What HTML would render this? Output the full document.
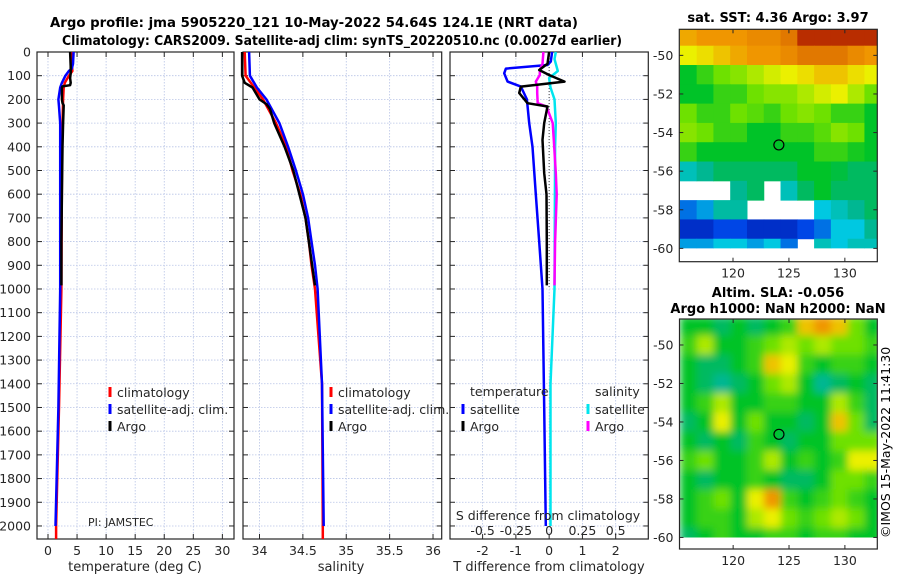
<!DOCTYPE html>
<html><head><meta charset="utf-8">
<style>
html,body{margin:0;padding:0;background:#fff;}
svg{display:block;font-family:"DejaVu Sans","Liberation Sans",sans-serif;}
</style></head>
<body>
<svg id="fig" width="900" height="580" viewBox="0 0 900 580" xmlns="http://www.w3.org/2000/svg">
<text x="314" y="27" font-size="13" font-weight="bold" text-anchor="middle" textLength="528" lengthAdjust="spacingAndGlyphs">Argo profile: jma 5905220_121 10-May-2022 54.64S 124.1E (NRT data)</text>
<text x="342" y="45" font-size="13" font-weight="bold" text-anchor="middle" textLength="560" lengthAdjust="spacingAndGlyphs">Climatology: CARS2009. Satellite-adj clim: synTS_20220510.nc (0.0027d earlier)</text>
<text x="778" y="22" font-size="13" font-weight="bold" text-anchor="middle">sat. SST: 4.36 Argo: 3.97</text>
<text x="778" y="297" font-size="13" font-weight="bold" text-anchor="middle">Altim. SLA: -0.056</text>
<text x="778" y="313" font-size="13" font-weight="bold" text-anchor="middle">Argo h1000: NaN h2000: NaN</text>
<text transform="translate(890,538) rotate(-90)" font-size="12.5">©IMOS 15-May-2022 11:41:30</text>
<g id="root"></g>
</svg>
<script>
// ---- profile data ----
const depthT_clim = [0,50,80,100,130,150,200,300,500,1000,1500,2000,2055];
const tClim       = [4.1,4.1,4.2,3.6,2.9,2.7,2.6,2.5,2.4,2.3,1.9,1.4,1.4];
const depthT_sat  = [0,50,70,80,100,130,150,200,230,300,500,1000,1500,2000];
const tSat        = [4.4,4.3,4.1,3.6,3.0,2.4,2.1,1.8,1.9,2.1,2.1,2.1,1.8,1.3];
const depthArgo   = [0,60,90,110,130,140,145,150,200,215,225,300,400,600,800,985];
const tArgo       = [3.8,3.9,3.9,3.8,3.9,3.8,2.5,2.4,2.4,2.5,2.7,2.6,2.5,2.4,2.3,2.3];
const depthS      = [0,100,150,200,300,400,500,600,700,800,900,1000,1400,2000,2055];
const sClim       = [33.83,33.84,33.94,34.04,34.19,34.31,34.38,34.47,34.53,34.57,34.60,34.64,34.72,34.73,34.73];
const sSat        = [33.88,33.89,33.97,34.08,34.23,34.33,34.42,34.50,34.56,34.60,34.64,34.67,34.72,34.74];
const depthSArgo  = [0,100,130,150,200,220,240,300,400,500,700,985];
const sArgo       = [33.80,33.80,33.83,33.92,34.00,34.08,34.12,34.17,34.29,34.39,34.53,34.64];
// differences
const depthDT_sat = [0,40,55,70,90,125,146,200,300,400,600,800,1000,1500,2000];
const dTSat       = [0.09,0.05,-0.05,-1.3,-1.35,-1.25,-0.85,-0.67,-0.6,-0.5,-0.4,-0.3,-0.2,-0.15,-0.1];
const depthDArgo  = [0,50,76,97,125,146,173,216,230,300,371,511,600,800,985];
const dTArgo      = [0.0,-0.05,-0.3,0.0,0.46,-0.85,-0.9,-0.65,-0.05,-0.15,-0.2,-0.15,-0.08,-0.07,-0.07];
const dSArgo      = [-0.043,-0.05,-0.07,-0.07,-0.1,-0.09,-0.09,-0.086,-0.02,0.027,0.035,0.05,0.057,0.045,0.04];
const depthDS_sat = [0,30,80,110,150,200,300,400,1000,1400,2000];
const dSSat       = [0.05,0.04,0.065,0.0,0.01,0.04,0.05,0.045,0.04,0.01,0.01];
// ticks
const depthTicks = [0,100,200,300,400,500,600,700,800,900,1000,1100,1200,1300,1400,1500,1600,1700,1800,1900,2000];
const tTicks = [0,5,10,15,20,25,30];
const sTicks = [34,34.5,35,35.5,36];
const sTickLabels = ["34","34.5","35","35.5","36"];
const dTTicks = [-2,-1,0,1,2];
const dSTicks = [-0.5,-0.25,0,0.25,0.5];
const dSTickLabels = ["-0.5","-0.25","0","0.25","0.5"];
// maps
const latTicks = [-50,-52,-54,-56,-58,-60];
const lonTicks = [120,125,130];
const gridLat = [-49,-50,-51,-52,-53,-54,-55,-56,-57,-58,-59,-60];
const gridLon = [116,117.5,119,120.5,122,123.5,125,126.5,128,129.5,131,132.5];
const sstGrid = [
 [0.78,0.8,0.8,0.8,0.82,0.82,0.85,0.95,0.95,0.95,0.95,0.95],
 [0.7,0.72,0.75,0.78,0.8,0.8,0.82,0.85,0.85,0.85,0.82,0.8],
 [0.5,0.55,0.6,0.62,0.65,0.68,0.7,0.72,0.75,0.75,0.72,0.7],
 [0.5,0.5,0.55,0.55,0.6,0.62,0.62,0.65,0.68,0.7,0.65,0.6],
 [0.6,0.55,0.55,0.6,0.58,0.55,0.6,0.62,0.6,0.55,0.55,0.5],
 [0.62,0.6,0.55,0.55,0.5,0.5,0.55,0.55,0.58,0.62,0.6,0.5],
 [0.55,0.5,0.5,0.5,0.5,0.5,0.5,0.5,0.55,0.55,0.52,0.5],
 [0.35,0.4,0.45,0.45,0.45,0.45,0.45,0.5,0.5,0.48,0.45,0.45],
 [-1,-1,-1,0.4,0.45,-1,0.35,0.45,0.5,0.45,0.45,0.45],
 [0.2,0.25,0.38,0.38,-1,-1,-1,-1,0.3,0.35,0.4,0.45],
 [0.1,0.1,0.15,0.15,0.1,0.1,0.1,0.15,0.2,0.3,0.3,0.4],
 [0.25,0.25,0.3,0.3,0.25,0.3,0.2,-1,0.35,0.3,0.35,0.35]];
const slaGrid = [
 [0.5,0.5,0.45,0.5,0.45,0.5,0.55,0.75,0.8,0.75,0.6,0.5],
 [0.55,0.65,0.5,0.5,0.55,0.6,0.65,0.6,0.65,0.6,0.6,0.55],
 [0.5,0.45,0.45,0.5,0.55,0.75,0.7,0.55,0.5,0.55,0.55,0.5],
 [0.5,0.45,0.4,0.45,0.5,0.6,0.65,0.5,0.4,0.45,0.5,0.45],
 [0.5,0.55,0.65,0.5,0.5,0.55,0.55,0.5,0.5,0.65,0.55,0.45],
 [0.45,0.5,0.7,0.5,0.6,0.5,0.5,0.45,0.5,0.75,0.6,0.45],
 [0.5,0.45,0.5,0.45,0.55,0.5,0.45,0.5,0.5,0.6,0.6,0.6],
 [0.55,0.6,0.5,0.5,0.55,0.65,0.5,0.55,0.5,0.55,0.7,0.7],
 [0.5,0.45,0.5,0.5,0.55,0.5,0.45,0.45,0.5,0.6,0.6,0.55],
 [0.5,0.55,0.6,0.5,0.7,0.8,0.55,0.5,0.55,0.6,0.55,0.5],
 [0.5,0.55,0.55,0.5,0.65,0.7,0.6,0.55,0.6,0.65,0.6,0.5],
 [0.45,0.5,0.55,0.5,0.5,0.55,0.55,0.5,0.55,0.55,0.5,0.5]];
const floatLon = 124.1, floatLat = -54.64;

const NS="http://www.w3.org/2000/svg";
const root=document.getElementById('root');
function mk(tag,attrs,parent){const e=document.createElementNS(NS,tag);for(const k in attrs)e.setAttribute(k,attrs[k]);(parent||root).appendChild(e);return e;}
function txt(x,y,s,size,anchor,parent){const t=mk('text',{x:x,y:y,'font-size':size,'text-anchor':anchor||'middle',fill:'#262626'},parent);t.textContent=s;return t;}

const TOP=52, BOT=539, D0=0, D1=2055;
const yD=d=>TOP+(d-D0)/(D1-D0)*(BOT-TOP);

function panel(name,L,R,xmin,xmax){
  const g=mk('g',{});
  
  
  return {g,L,R,x:v=>L+(v-xmin)/(xmax-xmin)*(R-L)};
}
function frame(p,xt,xl,showY){
  const g=p.g;
  depthTicks.forEach(d=>{const y=yD(d);
    const gl=mk('line',{x1:p.L,x2:p.R,y1:y,y2:y,stroke:'#b8c4e6','stroke-width':0.8,'stroke-dasharray':'1.5,1.5'},g);
    
    mk('line',{x1:p.L,x2:p.L+5,y1:y,y2:y,stroke:'#262626'},g);
    mk('line',{x1:p.R-5,x2:p.R,y1:y,y2:y,stroke:'#262626'},g);
    if(showY){const t=txt(31,y+4.5,String(d),12.5,'end',g);}
  });
  xt.forEach((v,i)=>{const x=p.x(v);
    mk('line',{x1:x,x2:x,y1:TOP,y2:BOT,stroke:'#b8c4e6','stroke-width':0.8,'stroke-dasharray':'1.5,1.5'},g);
    mk('line',{x1:x,x2:x,y1:BOT-5,y2:BOT,stroke:'#262626'},g);
    mk('line',{x1:x,x2:x,y1:TOP,y2:TOP+5,stroke:'#262626'},g);
    const t=txt(x,555,xl[i],12.5,'middle',g);
  });
  mk('rect',{x:p.L,y:TOP,width:p.R-p.L,height:BOT-TOP,fill:'none',stroke:'#262626','stroke-width':1.2},g);
}
function line(p,depths,vals,color,w,name,scale){
  let s='';depths.forEach((d,i)=>{s+=(i?'L':'M')+p.x(vals[i]*(scale||1)).toFixed(1)+','+yD(d).toFixed(1);});
  const e=mk('path',{d:s,fill:'none',stroke:color,'stroke-width':w,'stroke-linejoin':'round'},p.g);
  
  return e;
}
function legend(g,x,y,color,label,name){
  const m=mk('line',{x1:x,x2:x,y1:y-10,y2:y,stroke:color,'stroke-width':3},g);
  const t=txt(x+7,y,label,12.5,'start',g);
  
}

// Panel 1 temperature
const p1=panel('temperature-panel',37,234,-1.89,32);
frame(p1,tTicks,tTicks.map(String),true);
line(p1,depthT_clim,tClim,'#ff0000',2.5,'temperature-climatology-line');
line(p1,depthT_sat,tSat,'#0000ff',2.5,'temperature-satellite-line');
line(p1,depthArgo,tArgo,'#000000',2.5,'temperature-argo-line');
legend(p1.g,110,397,'#ff0000','climatology','legend-climatology');
legend(p1.g,110,414,'#0000ff','satellite-adj. clim.','legend-satellite-adj');
legend(p1.g,110,431,'#000000','Argo','legend-argo');
{const t=txt(88,526,'PI: JAMSTEC',11,'start',p1.g);}
{const t=txt(135,571,'temperature (deg C)',13,'middle',p1.g);}

// Panel 2 salinity
const p2=panel('salinity-panel',243,441.7,33.81,36.1);
frame(p2,sTicks,sTickLabels,false);
line(p2,depthS,sClim,'#ff0000',2.5,'salinity-climatology-line');
line(p2,depthS.slice(0,sSat.length),sSat,'#0000ff',2.5,'salinity-satellite-line');
line(p2,depthSArgo,sArgo,'#000000',2.5,'salinity-argo-line');
legend(p2.g,331,397,'#ff0000','climatology','legend-climatology-2');
legend(p2.g,331,414,'#0000ff','satellite-adj. clim.','legend-satellite-adj-2');
legend(p2.g,331,431,'#000000','Argo','legend-argo-2');
{const t=txt(341,571,'salinity',13,'middle',p2.g);}

// Panel 3 differences (T axis -3..3, S plotted x4)
const p3=panel('difference-panel',450,648.3,-2.98,2.98);
frame(p3,dTTicks,dTTicks.map(String),false);
{const z=mk('line',{x1:p3.x(0),x2:p3.x(0),y1:TOP,y2:yD(1000),stroke:'#444','stroke-width':1,'stroke-dasharray':'1,2'},p3.g);
 }
line(p3,depthDT_sat,dTSat,'#0000ff',2.5,'temp-diff-satellite-line');
line(p3,depthDS_sat,dSSat,'#00e5ee',2.5,'sal-diff-satellite-line',4);
line(p3,depthDArgo,dSArgo,'#ff00ff',2.5,'sal-diff-argo-line',4);
line(p3,depthDArgo,dTArgo,'#000000',2.5,'temp-diff-argo-line');
{const t=txt(470,396,'temperature',12.5,'start',p3.g);
 const t2=txt(595,396,'salinity',12.5,'start',p3.g);}
legend(p3.g,463,414,'#0000ff','satellite','legend-temp-satellite');
legend(p3.g,463,431,'#000000','Argo','legend-temp-argo');
legend(p3.g,588,414,'#00e5ee','satellite','legend-sal-satellite');
legend(p3.g,588,431,'#ff00ff','Argo','legend-sal-argo');
{const t=txt(548,520,'S difference from climatology',12.5,'middle',p3.g);}
dSTicks.forEach((v,i)=>{const t=txt(p3.x(v*4),535,dSTickLabels[i],12.5,'middle',p3.g);
 });
{const t=txt(549,571,'T difference from climatology',13,'middle',p3.g);}

// ---- maps ----
const stops=[[0,[0,0,140]],[0.15,[0,70,230]],[0.3,[0,200,225]],[0.42,[0,180,130]],[0.5,[0,195,40]],[0.6,[110,225,0]],[0.7,[235,240,0]],[0.8,[240,150,0]],[0.9,[210,90,0]],[1,[160,0,0]]];
function cmap(v){for(let i=1;i<stops.length;i++){if(v<=stops[i][0]){const a=stops[i-1],b=stops[i],f=(v-a[0])/(b[0]-a[0]);
  const c=a[1].map((q,k)=>Math.round(q+(b[1][k]-q)*f));return 'rgb('+c.join(',')+')';}}return 'rgb(160,0,0)';}
function map(name,L,R,T,B,latTop,latBot,grid,blur){
  const g=mk('g',{});
  
  
  const lonMin=115.2,lonMax=132.9;
  const X=lo=>L+(lo-lonMin)/(lonMax-lonMin)*(R-L);
  const Y=la=>T+(latTop-la)/(latTop-latBot)*(B-T);
  const cid='clip-'+name;
  const cp=mk('clipPath',{id:cid},g);mk('rect',{x:L,y:T,width:R-L,height:Y(-60)-T},cp);
  const cg=mk('g',{'clip-path':'url(#'+cid+')'},g);
  const inner=mk('g',blur?{filter:'url(#blur)'}:{},cg);
  gridLat.forEach((la,r)=>gridLon.forEach((lo,c)=>{
    const v=grid[r][c]; if(v<0) return;
    const cell=mk('rect',{x:X(lo-0.75),y:Y(la+0.5),width:X(lo+0.75)-X(lo-0.75)+0.5,height:Y(la-0.5)-Y(la+0.5)+0.5,fill:cmap(v)},inner);
    
    
  }));
  latTicks.forEach(la=>{const y=Y(la);mk('line',{x1:L,x2:L+4,y1:y,y2:y,stroke:'#262626'},g);mk('line',{x1:R-4,x2:R,y1:y,y2:y,stroke:'#262626'},g);
    const t=txt(L-6,y+4.5,String(la),12.5,'end',g);});
  lonTicks.forEach(lo=>{const x=X(lo);mk('line',{x1:x,x2:x,y1:B-4,y2:B,stroke:'#262626'},g);mk('line',{x1:x,x2:x,y1:T,y2:T+4,stroke:'#262626'},g);
    const t=txt(x,B+16,String(lo),12.5,'middle',g);});
  mk('rect',{x:L,y:T,width:R-L,height:B-T,fill:'none',stroke:'#262626','stroke-width':1.2},g);
  const m=mk('circle',{cx:X(floatLon),cy:Y(floatLat),r:5,fill:'none',stroke:'#000','stroke-width':1.2},g);
  
}
const defs=mk('defs',{});const f=mk('filter',{id:'blur',x:'-5%',y:'-5%',width:'110%',height:'110%'},defs);mk('feGaussianBlur',{stdDeviation:4},f);
map('sst-map',679.3,877.3,29.3,261.7,-48.65,-60.69,sstGrid,false);
map('sla-map',679.5,877.3,319,549,-48.65,-60.6,slaGrid,true);
</script>
</body></html>
